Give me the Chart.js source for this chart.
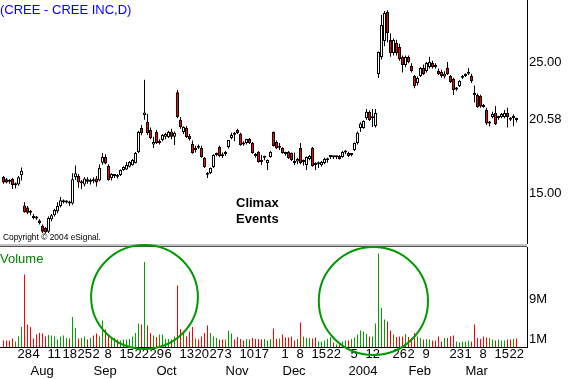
<!DOCTYPE html>
<html><head><meta charset="utf-8">
<script src="https://cdn.jsdelivr.net/npm/chart.js"></script>
<style>
html,body{margin:0;padding:0;background:#fff;width:570px;height:379px;overflow:hidden;}
#wrap{position:relative;width:570px;height:379px;overflow:hidden;}
canvas{position:absolute;}
.t{position:absolute;font-family:"Liberation Sans",Arial,sans-serif;line-height:1;white-space:nowrap;}
</style></head><body>
<div id="wrap">
<canvas id="price" width="571" height="244" style="left:-1px;top:0px"></canvas>
<canvas id="vol" width="571" height="135" style="left:-1px;top:244px"></canvas>
<div class="t" style="left:0px;top:3px;font-size:13px;color:#0000ff">(CREE - CREE INC,D)</div>
<div class="t" style="left:3px;top:233px;font-size:8.4px;color:#000">Copyright © 2004 eSignal.</div>
<div class="t" style="left:0px;top:252px;font-size:13px;color:#008000">Volume</div>
<div class="t" style="left:236px;top:195px;font-size:13px;font-weight:bold;line-height:16px;color:#000">Climax<br>Events</div>
</div>
<script>
// ---- data ----
const START_DATE = '2003-07-21';
const HOLIDAYS = ['2003-09-01','2003-11-27','2003-12-25','2004-01-01','2004-01-19','2004-02-16'];

const opens = [
16.22,16.05,15.95,16.07,15.60,15.65,16.35,14.05,13.90,13.60,
13.25,13.15,12.90,12.50,12.35,12.05,13.00,13.30,13.60,14.00,
14.30,14.28,14.35,14.20,16.20,16.30,15.75,15.65,16.05,15.85,
16.05,16.10,15.95,17.30,17.75,17.06,16.14,16.30,16.35,16.37,
16.76,16.80,17.00,17.14,17.29,18.13,19.96,20.95,20.42,19.81,
18.70,19.66,18.82,19.05,19.30,19.27,19.70,19.30,22.70,20.60,
19.66,19.96,19.35,18.74,18.28,18.50,18.43,17.67,16.45,16.53,
16.98,17.90,18.51,17.85,17.98,18.51,19.20,19.50,19.81,19.50,
18.82,18.82,19.12,18.82,17.90,18.13,17.40,17.70,17.29,17.75,
19.66,18.89,18.45,18.43,18.00,18.13,18.05,17.35,17.40,18.43,
17.37,17.14,17.60,18.43,17.20,17.20,17.14,17.29,17.50,17.75,
17.75,17.72,17.82,17.75,18.10,18.05,17.90,18.28,18.82,19.96,
19.96,20.73,21.18,20.70,20.12,24.08,25.38,26.60,28.82,26.68,
25.69,26.45,26.15,25.38,24.77,25.38,24.69,23.93,23.40,23.93,
24.54,24.31,24.62,24.92,24.70,24.31,24.24,23.90,24.54,23.93,
23.70,22.90,23.17,23.80,23.93,24.10,23.93,22.55,22.48,22.40,
21.72,21.34,20.30,20.80,21.11,20.73,20.80,20.80,21.11,20.65,
20.73,20.60];
const highs = [
16.30,16.15,16.05,16.15,15.80,16.30,16.95,14.30,14.00,13.70,
13.40,13.25,13.00,12.60,12.40,13.20,13.40,13.80,14.30,14.70,
14.50,14.45,14.40,16.50,17.10,16.45,16.00,16.20,16.20,16.10,
16.20,16.30,17.20,18.05,17.95,17.20,16.50,16.45,16.45,16.80,
17.05,17.37,17.45,17.60,18.13,19.75,20.20,23.65,21.05,20.00,
19.30,19.80,19.10,19.50,19.60,19.75,19.90,19.70,22.86,20.80,
20.10,20.10,19.50,19.00,18.60,18.70,18.60,17.75,16.60,16.95,
17.95,18.10,18.60,18.10,18.20,19.05,19.60,19.66,19.90,19.60,
18.95,19.15,19.20,18.90,18.05,18.20,17.90,17.85,17.55,18.20,
19.70,19.00,18.82,18.50,18.15,18.20,18.10,18.10,17.70,18.82,
17.55,17.80,17.90,18.51,17.35,17.40,17.45,17.70,17.70,17.90,
17.85,17.85,17.90,18.20,18.28,18.15,18.05,18.85,19.70,20.40,
20.55,21.41,21.30,21.41,21.41,25.80,28.59,28.89,28.95,27.20,
26.80,26.70,26.40,25.50,25.50,25.50,24.90,24.00,23.90,24.60,
24.80,25.00,25.40,25.10,24.90,24.50,24.40,24.30,25.00,24.00,
23.80,23.10,23.60,24.00,24.15,24.54,24.10,23.20,22.60,22.50,
21.80,21.50,20.50,21.20,21.64,20.90,21.10,21.34,21.50,20.80,
21.00,20.75];
const lows = [
15.70,15.75,15.70,15.30,15.35,15.55,15.95,13.50,13.40,13.30,
13.00,12.95,12.60,11.95,11.90,11.95,12.85,13.20,13.45,13.90,
14.20,14.20,14.00,14.10,16.00,15.40,15.30,15.50,15.70,15.65,
15.75,15.50,15.90,17.15,17.20,15.95,15.95,16.15,16.10,16.30,
16.70,16.75,16.95,17.10,17.25,18.05,19.40,20.60,19.43,19.10,
18.43,18.75,18.70,18.95,19.10,19.20,19.10,18.66,20.70,19.90,
19.50,19.20,19.00,18.00,18.10,18.35,17.70,16.90,16.14,16.45,
16.90,17.80,17.75,17.67,17.85,18.40,19.10,18.95,19.50,18.60,
18.60,18.70,18.75,18.00,17.70,17.30,17.14,17.50,16.76,17.70,
18.55,18.35,18.28,18.00,17.85,17.60,17.45,17.14,17.20,17.20,
17.10,16.76,17.50,17.00,16.76,16.90,17.00,17.20,17.30,17.60,
17.60,17.60,17.55,17.70,17.95,17.75,17.80,18.20,18.70,19.66,
19.90,20.60,20.50,20.04,20.00,23.78,25.20,26.20,26.50,25.40,
25.50,25.50,25.10,24.20,24.60,24.90,24.20,23.00,23.20,23.85,
24.00,24.20,24.50,24.50,24.50,24.00,23.80,23.75,24.00,23.40,
22.48,22.80,23.10,23.70,23.85,24.00,23.40,21.90,21.50,21.50,
21.50,20.20,20.10,20.70,20.20,20.60,20.70,20.70,20.00,20.50,
20.10,20.40];
const closes = [
15.80,15.80,15.85,15.61,15.70,16.20,16.70,13.55,13.50,13.50,
13.10,13.05,12.70,12.05,12.00,13.10,13.30,13.70,14.00,14.45,
14.38,14.36,14.20,16.05,16.50,15.80,15.90,16.10,15.85,16.00,
15.90,15.80,16.90,17.75,17.25,16.00,16.45,16.35,16.25,16.75,
16.98,17.14,17.37,17.52,18.05,19.66,19.58,21.15,19.58,19.20,
18.90,18.82,18.97,19.43,19.50,19.66,19.30,19.60,20.80,20.04,
20.04,19.27,19.12,18.05,18.43,18.45,17.75,16.98,16.40,16.91,
17.90,18.05,17.82,17.80,18.13,19.05,19.43,19.45,19.58,18.66,
18.70,19.12,18.82,18.05,17.82,17.37,17.37,17.75,17.52,18.13,
18.59,18.43,18.50,18.05,17.98,17.67,17.52,17.29,17.60,17.29,
17.45,17.75,17.82,17.06,17.14,17.29,17.37,17.60,17.55,17.80,
17.72,17.75,17.60,18.13,18.13,17.82,17.95,18.82,19.60,20.30,
20.50,21.20,20.57,20.80,21.11,25.76,27.83,28.74,27.21,25.69,
26.68,25.69,25.23,24.77,25.38,25.00,24.31,23.17,23.78,24.54,
24.08,24.92,25.00,24.62,24.62,24.08,23.93,24.10,24.08,23.47,
22.86,23.02,23.55,23.93,24.05,24.15,23.55,22.48,21.57,21.60,
21.57,20.30,20.45,21.03,20.27,20.80,21.03,21.10,20.80,20.60,
20.75,20.58];
// volume in millions of shares
const volumes = [
1.3,1.3,1.3,1.7,1.1,2.1,4.0,14.5,4.5,4.0,
1.7,2.5,2.8,2.7,2.1,2.4,2.3,2.1,1.5,2.1,
2.3,1.8,1.7,6.0,3.8,1.7,1.8,2.1,1.5,1.8,
2.3,2.7,2.1,5.3,3.5,2.1,1.9,1.8,1.5,1.3,
1.5,1.5,1.6,2.1,2.8,4.7,4.5,17.0,4.3,2.8,
2.3,2.0,2.5,2.5,1.6,1.6,1.5,2.1,12.3,3.6,
2.8,2.1,3.1,4.0,1.7,1.5,2.1,2.8,4.3,2.8,
2.1,1.8,1.5,1.5,1.5,3.3,2.7,1.5,2.0,1.6,
1.3,1.6,1.5,1.8,1.6,1.6,1.5,1.6,1.3,1.6,
3.7,1.6,1.7,2.5,1.9,1.9,2.1,1.3,1.6,4.9,
2.1,1.8,1.8,1.7,1.9,1.1,1.1,1.3,1.6,2.0,
0.9,0.5,0.5,1.1,1.3,1.3,1.6,1.9,2.5,3.3,
3.1,2.6,2.1,2.1,4.7,18.7,7.8,5.5,5.1,3.3,
2.5,2.0,2.1,2.1,2.6,2.0,1.8,2.8,2.1,1.8,
1.5,1.6,1.5,1.3,1.3,2.1,1.1,1.8,1.8,2.1,
2.3,1.1,0.9,1.1,1.1,1.3,1.1,4.5,1.8,1.6,
2.1,1.9,1.8,1.5,1.3,1.5,1.3,1.3,1.5,1.5,
1.6,1.7];

const dayTickDates = ['2003-07-28','2003-08-04','2003-08-11','2003-08-18','2003-08-25','2003-09-02','2003-09-08','2003-09-15','2003-09-22','2003-09-29','2003-10-06','2003-10-13','2003-10-20','2003-10-27','2003-11-03','2003-11-10','2003-11-17','2003-12-01','2003-12-08','2003-12-15','2003-12-22','2004-01-05','2004-01-12','2004-01-26','2004-02-02','2004-02-09','2004-02-23','2004-03-01','2004-03-08','2004-03-15','2004-03-22'];
const monthTickDates = ['2003-08-01','2003-09-02','2003-10-01','2003-11-03','2003-12-01','2004-01-02','2004-02-02','2004-03-01'];
const monthTickNames = ['Aug','Sep','Oct','Nov','Dec','2004','Feb','Mar'];
const priceTicks = [15, 20.58, 25];
const volumeTicks = [1, 9];
// circled "climax" zones: centre day index, centre volume (M), radius in days, radius in M
const climaxCentreDay = [47, 123.3];
const climaxCentreVol = [10, 9.2];
const climaxRadiusDays = [17.8, 18.2];
const climaxRadiusVol = [10.4, 10.8];

// ---- derived ----
function tradingDates(start, n, holidays){
  const out=[]; const d=new Date(start+'T00:00:00Z');
  while(out.length<n){
    const wd=d.getUTCDay(); const s=d.toISOString().slice(0,10);
    if(wd!==0 && wd!==6 && !holidays.includes(s)) out.push(s);
    d.setUTCDate(d.getUTCDate()+1);
  }
  return out;
}
const dates = tradingDates(START_DATE, closes.length, HOLIDAYS);
const labels = ['pad0', ...dates, 'pad1', 'pad2', 'pad3'];
const pad = a => [null, ...a, null, null, null];
const up = closes.map((c,i)=> c >= opens[i]);
const bodies = pad(opens.map((o,i)=>[o, closes[i]]));
const wicks = pad(lows.map((l,i)=>[l, highs[i]]));
const bodyFill = pad(up.map(u=> u ? '#ffffff' : '#ff0000'));
const volColors = pad(up.map(u=> u ? '#00a000' : '#ff0000'));
const daySet = new Set(dayTickDates);

const FONT = "'Liberation Sans', Arial, sans-serif";
Chart.defaults.font.family = FONT;
Chart.defaults.font.size = 13;
Chart.defaults.color = '#000';

const rightAxisFit = s => { s.width = 43; s.paddingTop = 0; s.paddingBottom = 0; };
const bottomAxisFit = s => { s.height = 16; s.paddingLeft = 0; s.paddingRight = 0; };

new Chart(document.getElementById('price'), {
  type: 'bar',
  data: { labels, datasets: [
    { data: bodies, backgroundColor: bodyFill, borderColor: '#000', borderWidth: 1, borderSkipped: false,
      barThickness: 3, grouped: false, order: 0, minBarLength: 2, inflateAmount: 0 },
    { data: wicks, backgroundColor: '#000', borderWidth: 0, barThickness: 1, grouped: false, order: 1, inflateAmount: 0 }
  ]},
  options: {
    responsive: false, animation: false, devicePixelRatio: 1,
    layout: { padding: 0 },
    plugins: { legend: { display: false }, tooltip: { enabled: false } },
    scales: {
      x: { display: false, offset: true },
      y: { position: 'right', min: 11.107, max: 29.733,
        grid: { display: false, drawTicks: false },
        border: { display: true, color: '#000', width: 1 },
        ticks: { padding: 2, font: { size: 13 }, color: '#000', callback: v => Number(v).toFixed(2) },
        afterBuildTicks: s => { s.ticks = priceTicks.map(v => ({ value: v })); },
        afterFit: rightAxisFit }
    }
  }
});

const decor = {
  id: 'decor',
  afterDraw(chart){
    const { ctx, chartArea: a, scales: { x, y } } = chart;
    ctx.save();
    ctx.fillStyle = '#c4c4c4';
    ctx.fillRect(a.left, a.top - 3, a.right - a.left, 2);
    ctx.fillStyle = '#505050';
    ctx.fillRect(a.left, a.top - 1, a.right - a.left, 1);
    ctx.strokeStyle = '#009a00';
    ctx.lineWidth = 2;
    for (let k = 0; k < climaxCentreDay.length; k++){
      const cx = x.getPixelForValue(climaxCentreDay[k] + 1);
      const rx = x.getPixelForValue(climaxCentreDay[k] + 1 + climaxRadiusDays[k]) - cx;
      const cy = y.getPixelForValue(climaxCentreVol[k]);
      const ry = cy - y.getPixelForValue(climaxCentreVol[k] + climaxRadiusVol[k]);
      ctx.beginPath();
      ctx.ellipse(cx, cy, rx, ry, 0, 0, Math.PI * 2);
      ctx.stroke();
    }
    ctx.restore();
  }
};

new Chart(document.getElementById('vol'), {
  type: 'bar',
  data: { labels, datasets: [
    { data: pad(volumes), backgroundColor: volColors, borderWidth: 0, barThickness: 1, inflateAmount: 0 }
  ]},
  options: {
    responsive: false, animation: false, devicePixelRatio: 1,
    layout: { padding: { top: 3, left: 0, right: 0, bottom: 0 } },
    plugins: { legend: { display: false }, tooltip: { enabled: false } },
    scales: {
      x: { position: 'bottom', offset: true, weight: 0,
        grid: { display: false, drawTicks: false },
        border: { display: true, color: '#000', width: 1 },
        ticks: { autoSkip: false, maxRotation: 0, minRotation: 0, align: 'start', padding: 0, labelOffset: -1,
          font: { size: 13 }, color: '#000',
          callback: function(v){ const lab = this.getLabelForValue(v); return daySet.has(lab) ? String(parseInt(lab.slice(8), 10)) : ''; } },
        afterFit: bottomAxisFit },
      x2: { type: 'category', position: 'bottom', offset: true, weight: 1,
        grid: { display: false, drawTicks: false },
        border: { display: false },
        ticks: { autoSkip: false, maxRotation: 0, minRotation: 0, align: 'start', padding: 1,
          font: { size: 13 }, color: '#000',
          callback: function(v){ const lab = this.getLabelForValue(v); const k = monthTickDates.indexOf(lab); return k >= 0 ? monthTickNames[k] : ''; } },
        afterFit: bottomAxisFit },
      y: { position: 'right', min: 0, max: 20,
        grid: { display: false, drawTicks: false },
        border: { display: true, color: '#000', width: 1 },
        ticks: { padding: 2, labelOffset: -3, font: { size: 13 }, color: '#000', callback: v => v + 'M' },
        afterBuildTicks: s => { s.ticks = volumeTicks.map(v => ({ value: v })); },
        afterFit: rightAxisFit }
    }
  },
  plugins: [decor]
});
</script>
</body></html>
